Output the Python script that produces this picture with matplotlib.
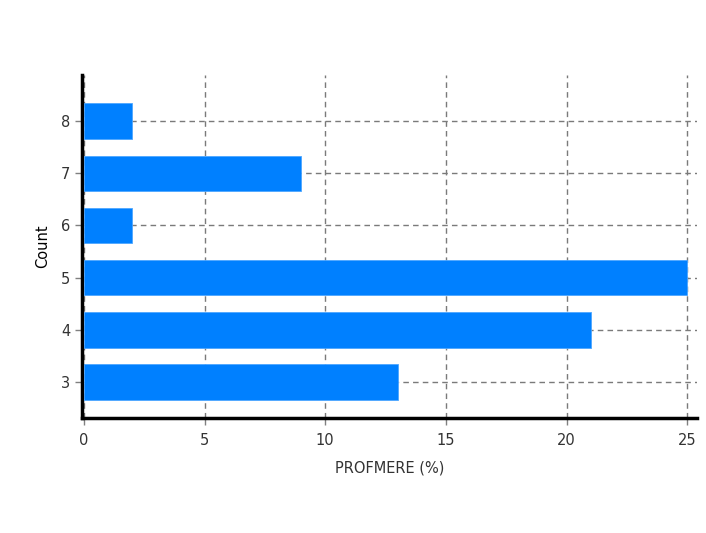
import numpy as np
import matplotlib.pyplot as plt

counts = [3, 4, 5, 6, 7, 8]
profmere = [13, 21, 25, 2, 9, 2]
xticks = [0, 5, 10, 15, 20, 25]

fig = plt.figure(figsize=(7.06, 5.33), dpi=100)
fig.patch.set_facecolor('white')
ax = fig.add_axes([0.1161, 0.2158, 0.8709, 0.6432])
ax.set_facecolor('white')

ax.barh(counts, profmere, height=0.68, color='#0080ff', edgecolor='#4da6ff',
        linewidth=0.6, zorder=3)

ax.set_xlim(-0.08, 25.4)
ax.set_ylim(2.31, 8.88)
ax.set_xticks(xticks)
ax.set_yticks(counts)

ax.grid(True, color='#7a7a7a', linestyle=(0, (4, 3)), linewidth=1.0, zorder=0)
ax.set_axisbelow(True)

for s in ['top', 'right']:
    ax.spines[s].set_visible(False)
for s in ['left', 'bottom']:
    ax.spines[s].set_linewidth(2.5)
    ax.spines[s].set_color('black')

ax.tick_params(axis='both', colors='#808080', labelcolor='#333333',
               labelsize=10.5, length=5, width=1)
ax.tick_params(axis='x', pad=6)

ax.set_xlabel('PROFMERE (%)', fontsize=10.5, color='#333333', labelpad=9)
ax.set_ylabel('Count', fontsize=10.5, color='black', labelpad=8)

plt.savefig('out.png', dpi=100, facecolor='white')
